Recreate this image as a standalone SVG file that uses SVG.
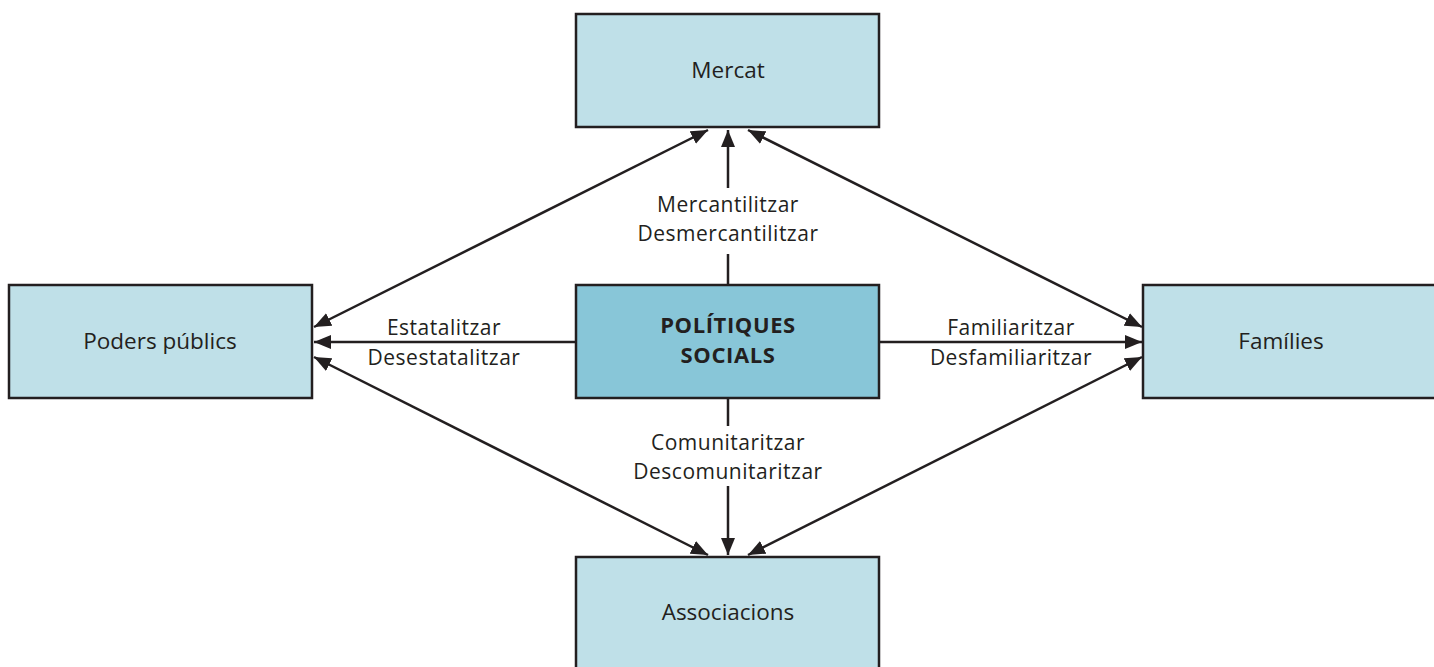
<svg xmlns="http://www.w3.org/2000/svg" width="1434" height="667" viewBox="0 0 1434 667">
<style>
.box{fill:#bfe0e8;stroke:#231f20;stroke-width:2.5}
.center{fill:#88c6d8;stroke:#231f20;stroke-width:2.5}
.lbl{font-family:"Open Sans","Noto Sans",sans-serif;font-size:22.5px;fill:#231f20;text-anchor:middle}
.sm{font-size:21px;letter-spacing:0.5px}
.bold{font-weight:bold;font-size:22px;letter-spacing:0.6px}
.c{stroke:#231f20;stroke-width:2.5;fill:none}
</style>
<defs>
<marker id="ah" markerUnits="userSpaceOnUse" markerWidth="18" markerHeight="14" refX="17" refY="7" orient="auto-start-reverse">
<path d="M0,0 L17,7 L0,14 Z" fill="#231f20"/>
</marker>
</defs>
<rect width="1434" height="667" fill="#ffffff"/>
<g id="connectors">
<line class="c" x1="728" y1="188" x2="728" y2="130" marker-end="url(#ah)"/>
<line class="c" x1="728" y1="254" x2="728" y2="285"/>
<line class="c" x1="728" y1="398" x2="728" y2="426"/>
<line class="c" x1="728" y1="486" x2="728" y2="555" marker-end="url(#ah)"/>
<line class="c" x1="576" y1="342" x2="314" y2="342" marker-end="url(#ah)"/>
<line class="c" x1="879" y1="342" x2="1142" y2="342" marker-end="url(#ah)"/>
<line class="c" x1="708" y1="130" x2="314" y2="327" marker-start="url(#ah)" marker-end="url(#ah)"/>
<line class="c" x1="748" y1="130" x2="1142" y2="327" marker-start="url(#ah)" marker-end="url(#ah)"/>
<line class="c" x1="314" y1="357" x2="708" y2="555" marker-start="url(#ah)" marker-end="url(#ah)"/>
<line class="c" x1="1142" y1="357" x2="748" y2="555" marker-start="url(#ah)" marker-end="url(#ah)"/>
<text class="lbl sm" x="728" y="212">Mercantilitzar</text>
<text class="lbl sm" x="728" y="241">Desmercantilitzar</text>
<text class="lbl sm" x="728" y="450">Comunitaritzar</text>
<text class="lbl sm" x="728" y="479">Descomunitaritzar</text>
<text class="lbl sm" x="444" y="335">Estatalitzar</text>
<text class="lbl sm" x="444" y="365">Desestatalitzar</text>
<text class="lbl sm" x="1011" y="335">Familiaritzar</text>
<text class="lbl sm" x="1011" y="365">Desfamiliaritzar</text>
</g>
<g id="mercat">
<rect class="box" x="576" y="14" width="303" height="113"/>
<text class="lbl" x="728" y="78">Mercat</text>
</g>
<g id="politiques">
<rect class="center" x="576" y="285" width="303" height="113"/>
<text class="lbl bold" x="728" y="333">POLÍTIQUES</text>
<text class="lbl bold" x="728" y="363">SOCIALS</text>
</g>
<g id="poders">
<rect class="box" x="9" y="285" width="303" height="113"/>
<text class="lbl" x="160" y="349">Poders públics</text>
</g>
<g id="families">
<rect class="box" x="1143" y="285" width="303" height="113"/>
<text class="lbl" x="1281" y="349">Famílies</text>
</g>
<g id="associacions">
<rect class="box" x="576" y="557" width="303" height="120"/>
<text class="lbl" x="728" y="620">Associacions</text>
</g>
</svg>
